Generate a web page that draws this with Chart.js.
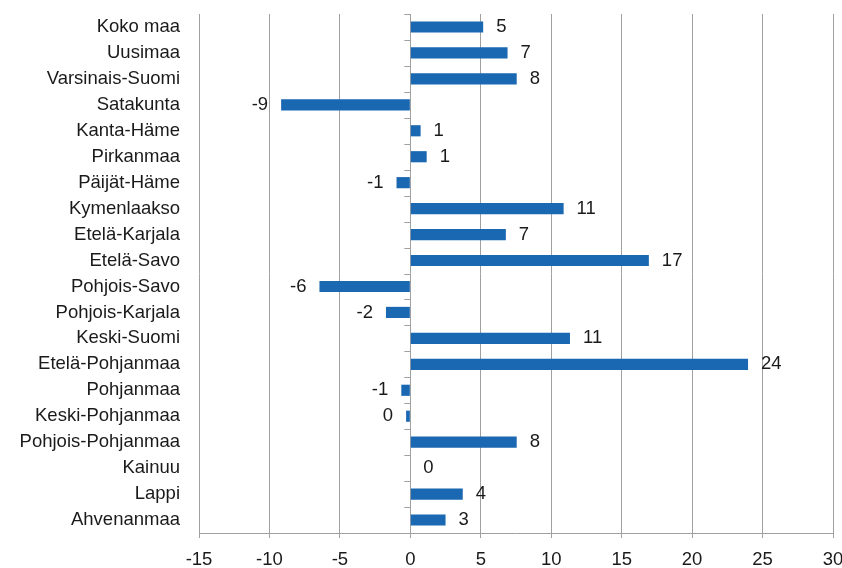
<!DOCTYPE html>
<html>
<head>
<meta charset="utf-8">
<script src="https://cdn.jsdelivr.net/npm/chart.js@4/dist/chart.umd.min.js"></script>
<style>
  html, body { margin: 0; padding: 0; background: #fff; }
  #wrap { width: 842px; height: 568px; }
</style>
</head>
<body>
<div id="wrap"><canvas id="chart" width="842" height="568"></canvas></div>
<script>
const regions = [
  "Koko maa", "Uusimaa", "Varsinais-Suomi", "Satakunta", "Kanta-Häme",
  "Pirkanmaa", "Päijät-Häme", "Kymenlaakso", "Etelä-Karjala", "Etelä-Savo",
  "Pohjois-Savo", "Pohjois-Karjala", "Keski-Suomi", "Etelä-Pohjanmaa", "Pohjanmaa",
  "Keski-Pohjanmaa", "Pohjois-Pohjanmaa", "Kainuu", "Lappi", "Ahvenanmaa"
]
const changes = [
  5.17, 6.9, 7.55, -9.17, 0.73,
  1.16, -0.98, 10.88, 6.78, 16.93,
  -6.45, -1.73, 11.33, 23.97, -0.64,
  -0.3, 7.55, 0, 3.72, 2.5
]
const xTicks = [-15, -10, -5, 0, 5, 10, 15, 20, 25, 30]

const FONT = "'Liberation Sans', Arial, sans-serif"
const GRID = "#a0a0a0"

// arvot palkkien päihin
const valueLabels = {
  id: "valueLabels",
  afterDatasetsDraw(chart) {
    const ctx = chart.ctx
    const meta = chart.getDatasetMeta(0)
    ctx.save()
    ctx.font = "18.5px " + FONT
    ctx.fillStyle = "#1a1a1a"
    ctx.textBaseline = "middle"
    meta.data.forEach((bar, i) => {
      const v = changes[i]
      const txt = String(Math.round(v)).replace("-0", "0")
      if (v < 0) {
        ctx.textAlign = "right"
        ctx.fillText(txt, bar.x - 13, bar.y)
      } else {
        ctx.textAlign = "left"
        ctx.fillText(txt, bar.x + 13, bar.y)
      }
    })
    ctx.restore()
  }
}

// pienet jakoviivat nollakohdassa
const zeroTicks = {
  id: "zeroTicks",
  afterDraw(chart) {
    const ctx = chart.ctx
    const x0 = chart.scales.x.getPixelForValue(0)
    const area = chart.chartArea
    const step = (area.bottom - area.top) / regions.length
    ctx.save()
    ctx.strokeStyle = GRID
    ctx.lineWidth = 1
    ctx.beginPath()
    for (let k = 0; k <= regions.length; k++) {
      const y = Math.round(area.top + k * step) + 0.5
      ctx.moveTo(x0 - 6, y)
      ctx.lineTo(x0, y)
    }
    ctx.stroke()
    ctx.restore()
  }
}

new Chart(document.getElementById("chart"), {
  type: "bar",
  data: {
    labels: regions,
    datasets: [{
      data: changes,
      backgroundColor: "#1a67b2",
      borderWidth: 0,
      categoryPercentage: 1,
      barPercentage: 0.43
    }]
  },
  options: {
    indexAxis: "y",
    responsive: false,
    animation: false,
    layout: { padding: { top: 14, right: 0, bottom: 0, left: 0 } },
    plugins: {
      legend: { display: false },
      tooltip: { enabled: false }
    },
    scales: {
      x: {
        min: -15,
        max: 30,
        afterBuildTicks(scale) {
          scale.ticks = xTicks.map(v => ({ value: v }))
        },
        afterFit(scale) {
          scale.height = 35
          scale.paddingRight = 9
          scale.paddingLeft = 0
        },
        grid: { color: GRID, lineWidth: 1, drawTicks: true, tickLength: 5 },
        border: { color: GRID, width: 1 },
        ticks: {
          color: "#1a1a1a",
          font: { family: FONT, size: 18.5 },
          padding: 11,
          maxRotation: 0
        }
      },
      y: {
        afterFit(scale) {
          scale.width = 199
          scale.paddingTop = 0
          scale.paddingBottom = 0
        },
        grid: { display: false, drawTicks: false },
        border: { display: false },
        ticks: {
          color: "#1a1a1a",
          font: { family: FONT, size: 18.5 },
          padding: 19,
          autoSkip: false
        }
      }
    }
  },
  plugins: [valueLabels, zeroTicks]
})
</script>
</body>
</html>
